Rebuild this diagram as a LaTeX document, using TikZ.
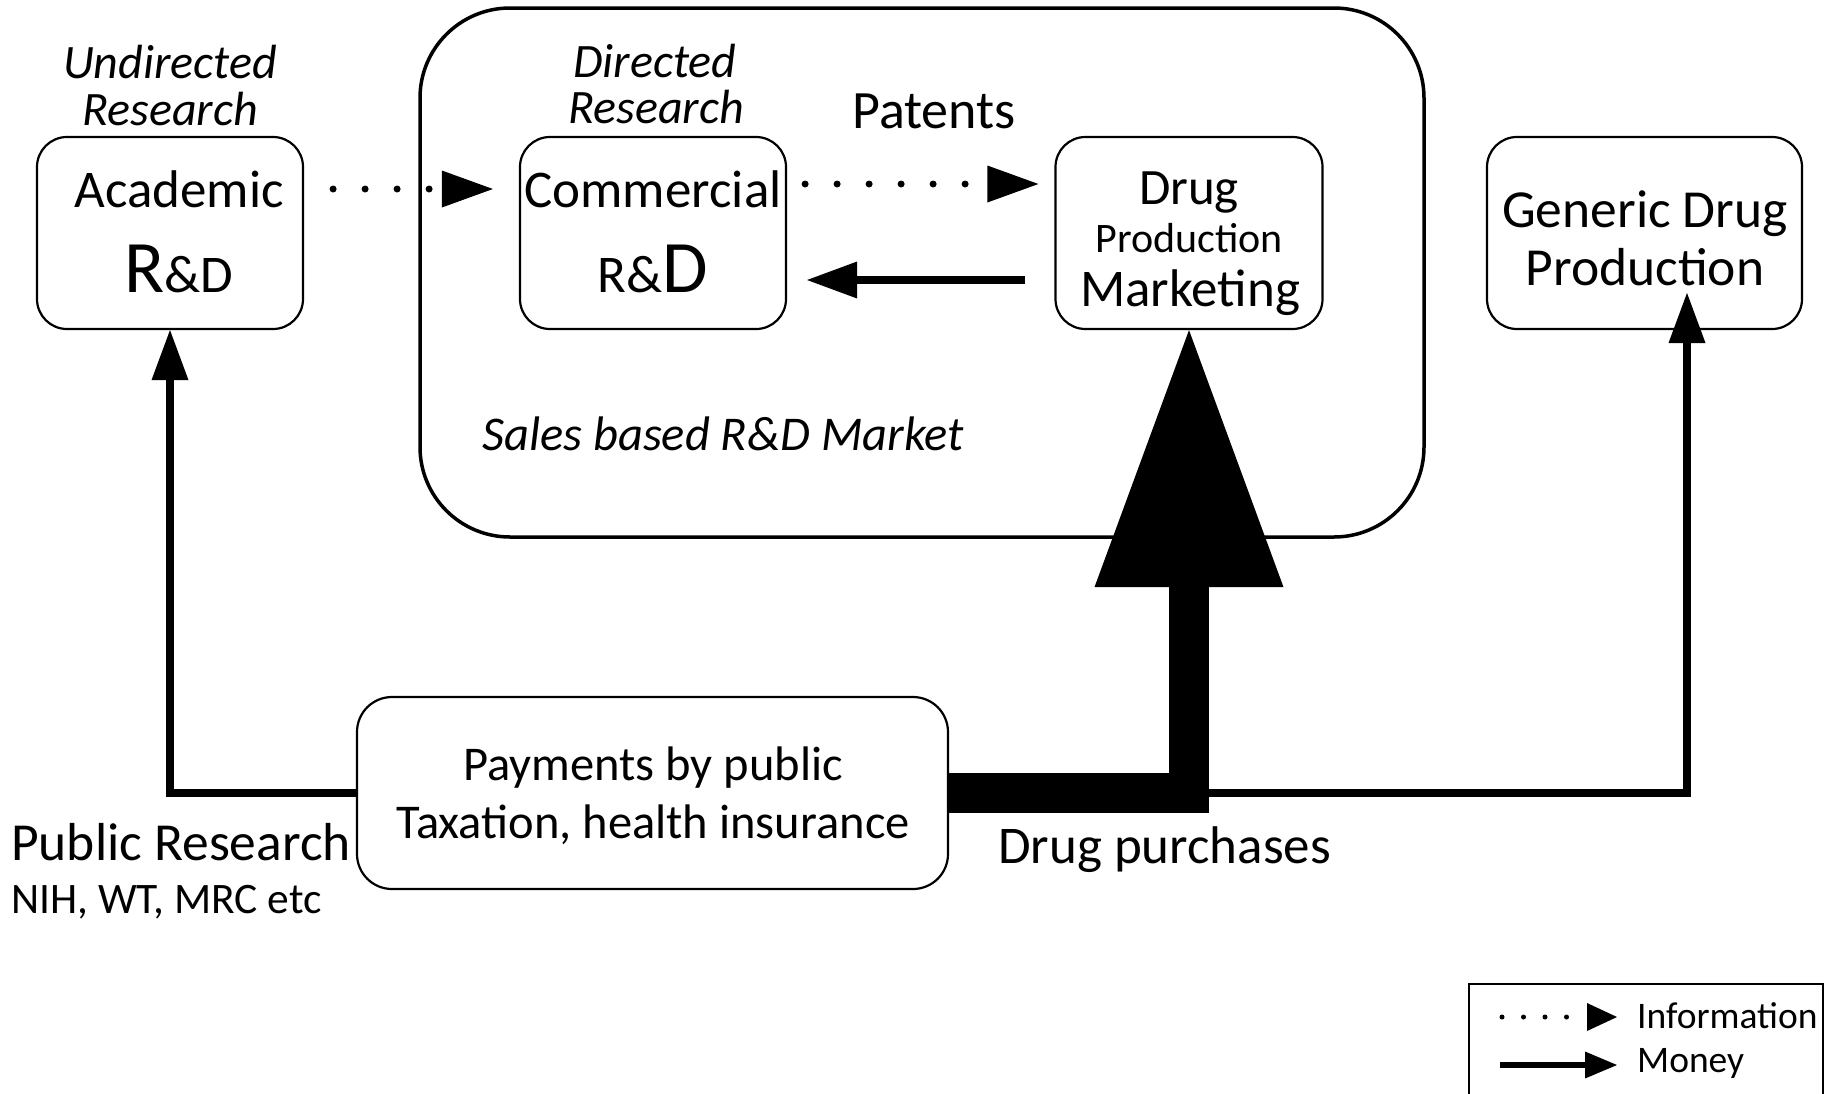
\documentclass[tikz,border=0pt]{standalone}
\usepackage{fontspec}
\setmainfont{Carlito}
\usetikzlibrary{arrows.meta,calc}
\newcommand\fsz[1]{\fontsize{#1pt}{#1pt}\selectfont}
\begin{document}
\begin{tikzpicture}[x=1pt,y=-1pt,
  box/.style={draw,line width=2.2pt,rounded corners=30pt,inner sep=0pt,minimum width=266pt,minimum height=192pt},
  lbl/.style={anchor=base,inner sep=0pt},
  lblw/.style={anchor=base west,inner sep=0pt},
  money/.style={line width=8.5pt,-{Triangle[length=50pt,width=37pt,line width=0pt]}},
  info/.style={line width=7pt,line cap=round,dash pattern=on 0pt off 32pt,-{Triangle[length=51pt,width=37pt,line width=0pt]}},
]
\useasboundingbox (0,0) rectangle (1829,1093);
\fill[white] (0,0) rectangle (1829,1093);

% market frame
\node[draw,line width=3.5pt,rounded corners=90pt,inner sep=0pt,minimum width=1004pt,minimum height=529pt] (market) at (922,272.5) {};

% boxes
\node[box] (Acad) at (170,233) {};
\node[box] (Comm) at (653,233) {};
\node[box,minimum width=267pt] (Drug) at (1189,233) {};
\node[box,minimum width=315pt] (Gen) at (1644.5,233) {};
\node[box,minimum width=591pt,rounded corners=35pt] (Pay) at (652.5,793) {};

% texts
\node[lbl,font=\itshape\fsz{48}] (und1) at (170,78) {Undirected};
\node[lbl,font=\itshape\fsz{48}] (und2) at (170,125) {Research};
\node[lbl,font=\fsz{53}] (acad1) at (179,207) {Academic};
\node[lbl] (acad2) at (179,292) {{\fsz{74}R}{\fsz{53}\&D}};

\node[lbl,font=\itshape\fsz{48}] (dir1) at (655,77) {Directed};
\node[lbl,font=\itshape\fsz{48}] (dir2) at (656,123) {Research};
\node[lbl,font=\fsz{53}] (comm1) at (653,207) {Commercial};
\node[lbl] (comm2) at (653,292) {{\fsz{53}R\&}{\fsz{74}D}};

\node[lbl,font=\fsz{54}] (pat) at (934,128) {Patents};

\node[lbl,font=\fsz{51}] (drug1) at (1189,204) {Drug};
\node[lbl,font=\fsz{42}] (drug2) at (1189,252) {Production};
\node[lbl,font=\fsz{53}] (drug3) at (1190,306) {Marketing};

\node[lbl,font=\fsz{53.5}] (gen1) at (1645,227) {Generic Drug};
\node[lbl,font=\fsz{53.5}] (gen2) at (1645,285) {Production};

\node[lbl,font=\itshape\fsz{48.5}] (sales) at (723,450) {Sales based R\&D Market};

\node[lbl,font=\fsz{48.5}] (pay1) at (653,780) {Payments by public};
\node[lbl,font=\fsz{48.5}] (pay2) at (653,838) {Taxation, health insurance};

\node[lblw,font=\fsz{53.5}] (pubr) at (11,860) {Public Research};
\node[lblw,font=\fsz{43.5}] (nih) at (11,913) {NIH, WT, MRC etc};
\node[lblw,font=\fsz{53}] (dpur) at (998,863) {Drug purchases};

% information arrows
\coordinate (yA) at (0,189);
\coordinate (yB) at (0,184);
\coordinate (yC) at (0,280);
\draw[info,shorten <=29pt,shorten >=26pt] (Acad.east |- yA) -- (Comm.west |- yA);
\draw[info,shorten <=18pt,shorten >=16pt] (Comm.east |- yB) -- (Drug.west |- yB);

% money arrows
\draw[money,shorten <=29pt,shorten >=20pt] (Drug.west |- yC) -- (Comm.east |- yC);
\draw[money] (Pay.west) -| (Acad.south);
\coordinate (jn) at (1189,793);
\coordinate (gtip) at (1687,293);
\draw[money] (jn) -| (gtip);
\draw[line width=40pt,-{Triangle[length=257pt,width=189pt,line width=0pt]}] (Pay.east) -- (jn) -- (Drug.south);

% legend
\coordinate (lg1) at (1469,1100);
\coordinate (lg2) at (1469,984);
\coordinate (lg3) at (1823,984);
\coordinate (lg4) at (1823,1100);
\draw[line width=2.5pt] (lg1) -- (lg2) -- (lg3) -- (lg4);
\coordinate (li1) at (1502,1017);
\coordinate (li2) at (1617,1017);
\coordinate (lm1) at (1500,1065);
\coordinate (lm2) at (1617,1065);
\draw[line width=5pt,line cap=round,dash pattern=on 0pt off 21.5pt,-{Triangle[length=30pt,width=28pt,line width=0pt]}] (li1) -- (li2);
\draw[line width=6pt,-{Triangle[length=32pt,width=27pt,line width=0pt]}] (lm1) -- (lm2);
\node[lblw,font=\fsz{37.5}] (linfo) at (1637,1028) {Information};
\node[lblw,font=\fsz{37.5}] (lmoney) at (1637,1072) {Money};
\end{tikzpicture}
\end{document}
